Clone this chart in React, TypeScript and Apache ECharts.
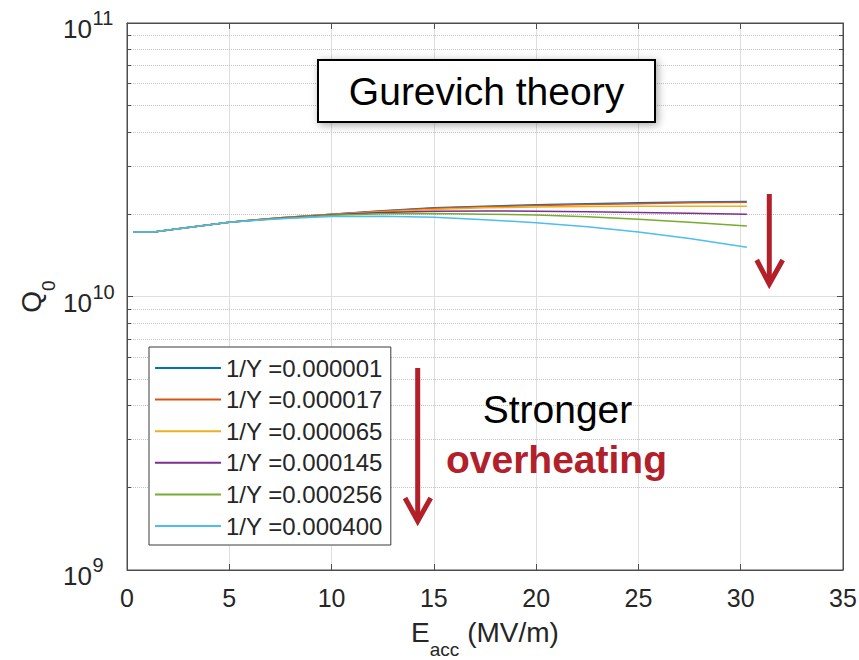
import React, { useEffect, useRef } from "react";
import * as echarts from "echarts";

const FONT = 'Arial, "Liberation Sans", Helvetica, sans-serif';

const eacc = [0.3, 1.3, 2.5, 5, 7.5, 10, 12.5, 15, 17.5, 20, 22.5, 25, 27.5, 30.3];

const seriesNames = [
  "1/Y =0.000001",
  "1/Y =0.000017",
  "1/Y =0.000065",
  "1/Y =0.000145",
  "1/Y =0.000256",
  "1/Y =0.000400",
];

// Q0 values in units of 1e10
const q1 = [1.72, 1.72, 1.77, 1.87, 1.94, 2.0, 2.06, 2.11, 2.14, 2.165, 2.185, 2.2, 2.215, 2.225];
const q2 = [1.72, 1.72, 1.77, 1.87, 1.94, 2.0, 2.055, 2.1, 2.13, 2.15, 2.17, 2.185, 2.2, 2.21];
const q3 = [1.72, 1.72, 1.77, 1.87, 1.94, 1.995, 2.04, 2.08, 2.11, 2.125, 2.135, 2.14, 2.14, 2.14];
const q4 = [1.72, 1.72, 1.77, 1.87, 1.935, 1.99, 2.03, 2.05, 2.055, 2.05, 2.04, 2.03, 2.015, 2.0];
const q5 = [1.72, 1.72, 1.77, 1.87, 1.93, 1.98, 2.005, 2.01, 2.0, 1.985, 1.955, 1.915, 1.87, 1.81];
const q6 = [1.72, 1.72, 1.77, 1.87, 1.925, 1.96, 1.965, 1.95, 1.91, 1.86, 1.8, 1.72, 1.63, 1.515];

const seriesValues = [q1, q2, q3, q4, q5, q6];
const colors = ["#0072BD", "#D95319", "#EDB120", "#7E2F8E", "#77AC30", "#4DBEEE"];

// y tick labels: 10^exponent
const yTickExponents = [9, 10, 11];

const minorValues = [2, 3, 4, 5, 6, 7, 8, 9].flatMap((m) => [m * 1e9, m * 1e10]);

const AXIS_COLOR = "#4d4d4d";
const TEXT_COLOR = "#262626";
const RED = "#B2202A";

export default function App() {
  const ref = useRef<HTMLDivElement>(null);

  useEffect(() => {
    if (!ref.current) return;
    const chart = echarts.init(ref.current, undefined, { renderer: "svg" });

    const series: any[] = seriesNames.map((name, i) => ({
      name,
      type: "line",
      xAxisIndex: 0,
      yAxisIndex: 0,
      data: eacc.map((x, j) => [x, seriesValues[i][j] * 1e10]),
      showSymbol: false,
      symbol: "none",
      smooth: false,
      lineStyle: { width: 1.5, color: colors[i] },
      itemStyle: { color: colors[i] },
      z: 3,
    }));

    // minor grid lines and minor ticks (log axis)
    series[0].markLine = {
      silent: true,
      symbol: "none",
      z: 1,
      animation: false,
      label: { show: false },
      data: [
        ...minorValues.map((v) => ({
          yAxis: v,
          lineStyle: { type: "dotted", color: "#c4c4c4", width: 1 },
        })),
        ...minorValues.map((v) => [
          { coord: [0, v], lineStyle: { type: "solid", color: AXIS_COLOR, width: 1 } },
          { coord: [0.2, v] },
        ]),
        ...minorValues.map((v) => [
          { coord: [34.8, v], lineStyle: { type: "solid", color: AXIS_COLOR, width: 1 } },
          { coord: [35, v] },
        ]),
      ],
    };

    const nameRich = {
      m: { fontSize: 28, fontFamily: FONT, color: TEXT_COLOR, verticalAlign: "top", lineHeight: 31 },
      sub: {
        fontSize: 19,
        fontFamily: FONT,
        color: TEXT_COLOR,
        verticalAlign: "top",
        lineHeight: 19,
        padding: [22, 0, 0, 0],
      },
    };

    const baseGraphics: any[] = [
      {
        type: "rect",
        shape: { x: 318, y: 60, width: 337, height: 62 },
        style: {
          fill: "#ffffff",
          stroke: "#000000",
          lineWidth: 2,
          shadowBlur: 8,
          shadowColor: "rgba(0,0,0,0.35)",
          shadowOffsetX: 2,
          shadowOffsetY: 2,
        },
        z: 20,
      },
      {
        type: "text",
        x: 486.5,
        y: 91.5,
        style: {
          text: "Gurevich theory",
          fontSize: 39,
          fontFamily: FONT,
          fill: "#000000",
          align: "center",
          verticalAlign: "middle",
        },
        z: 21,
      },
      {
        type: "text",
        x: 557.5,
        y: 409,
        style: {
          text: "Stronger",
          fontSize: 39,
          fontFamily: FONT,
          fill: "#000000",
          align: "center",
          verticalAlign: "middle",
        },
        z: 21,
      },
      {
        type: "text",
        x: 556.5,
        y: 459,
        style: {
          text: "overheating",
          fontSize: 39,
          fontWeight: "bold",
          fontFamily: FONT,
          fill: RED,
          align: "center",
          verticalAlign: "middle",
        },
        z: 21,
      },
      {
        type: "line",
        shape: { x1: 417.7, y1: 368, x2: 417.7, y2: 518 },
        style: { stroke: RED, lineWidth: 5 },
        z: 21,
      },
      {
        type: "polyline",
        shape: { points: [[405, 498], [417.7, 521], [430.7, 498]] },
        style: { stroke: RED, lineWidth: 5, fill: "none", lineJoin: "miter" },
        z: 21,
      },
      {
        type: "line",
        shape: { x1: 769.3, y1: 194, x2: 769.3, y2: 281 },
        style: { stroke: RED, lineWidth: 5 },
        z: 21,
      },
      {
        type: "polyline",
        shape: { points: [[756.7, 260], [769.3, 284], [782.7, 260]] },
        style: { stroke: RED, lineWidth: 5, fill: "none", lineJoin: "miter" },
        z: 21,
      },
    ];

    chart.setOption({
      animation: false,
      backgroundColor: "#ffffff",
      color: colors,
      grid: {
        left: 127,
        right: 16,
        top: 23,
        bottom: 90,
        containLabel: false,
        outerBoundsMode: "none",
        show: true,
        borderColor: AXIS_COLOR,
        borderWidth: 1,
        backgroundColor: "transparent",
      },
      legend: {
        show: true,
        orient: "vertical",
        left: 149,
        top: 347,
        padding: [9, 8, 7, 6],
        itemGap: 7.6,
        itemWidth: 66,
        itemHeight: 2,
        icon: "rect",
        backgroundColor: "#ffffff",
        borderColor: "#3a3a3a",
        borderWidth: 1,
        borderRadius: 0,
        data: seriesNames,
        textStyle: { fontSize: 24, fontFamily: FONT, color: TEXT_COLOR, lineHeight: 24 },
        z: 10,
      },
      xAxis: [
        {
          type: "value",
          min: 0,
          max: 35,
          interval: 5,
          name: "{m|E}{sub|acc}{m| (MV/m)}",
          nameLocation: "middle",
          nameGap: 48,
          nameTextStyle: { fontSize: 28, fontFamily: FONT, color: TEXT_COLOR, rich: nameRich },
          axisLine: { show: true, onZero: false, lineStyle: { color: AXIS_COLOR, width: 1 } },
          axisTick: { show: true, inside: true, length: 6, lineStyle: { color: AXIS_COLOR } },
          axisLabel: { fontSize: 25, fontFamily: FONT, color: TEXT_COLOR, margin: 15 },
          splitLine: { show: true, lineStyle: { color: "#dedede", width: 1 } },
        },
        {
          type: "value",
          position: "top",
          min: 0,
          max: 35,
          interval: 5,
          axisLine: { show: true, onZero: false, lineStyle: { color: AXIS_COLOR, width: 1 } },
          axisTick: { show: true, inside: true, length: 6, lineStyle: { color: AXIS_COLOR } },
          axisLabel: { show: false },
          splitLine: { show: false },
        },
      ],
      yAxis: [
        {
          type: "log",
          logBase: 10,
          min: 1e9,
          max: 1e11,
          splitNumber: 2,
          name: "{m|Q}{sub|0}",
          nameLocation: "middle",
          nameGap: 79,
          nameTextStyle: { fontSize: 28, fontFamily: FONT, color: TEXT_COLOR, rich: nameRich },
          axisLine: { show: true, onZero: false, lineStyle: { color: AXIS_COLOR, width: 1 } },
          axisTick: { show: true, inside: true, length: 6, lineStyle: { color: AXIS_COLOR } },
          axisLabel: { show: false },
          splitLine: { show: true, lineStyle: { color: "#dedede", width: 1 } },
        },
        {
          type: "log",
          logBase: 10,
          min: 1e9,
          max: 1e11,
          splitNumber: 2,
          position: "right",
          axisLine: { show: true, onZero: false, lineStyle: { color: AXIS_COLOR, width: 1 } },
          axisTick: { show: true, inside: true, length: 6, lineStyle: { color: AXIS_COLOR } },
          axisLabel: { show: false },
          splitLine: { show: false },
        },
      ],
      series,
      graphic: baseGraphics,
    });

    // y tick labels (10 with superscript exponent) placed through the axis scale
    const labelGraphics: any[] = [];
    yTickExponents.forEach((e) => {
      const py = chart.convertToPixel({ yAxisIndex: 0 }, Math.pow(10, e)) as number;
      labelGraphics.push({
        type: "text",
        x: 92,
        y: py + 6,
        style: {
          text: "10",
          fontSize: 26,
          fontFamily: FONT,
          fill: TEXT_COLOR,
          align: "right",
          verticalAlign: "middle",
        },
        z: 21,
      });
      labelGraphics.push({
        type: "text",
        x: 92.5,
        y: py - 5,
        style: {
          text: String(e),
          fontSize: 20,
          fontFamily: FONT,
          fill: TEXT_COLOR,
          align: "left",
          verticalAlign: "middle",
        },
        z: 21,
      });
    });
    chart.setOption({ graphic: [...baseGraphics, ...labelGraphics] });

    return () => chart.dispose();
  }, []);

  return (
    <div
      ref={ref}
      style={{ position: "absolute", left: 0, top: 0, width: 859, height: 660 }}
    />
  );
}
